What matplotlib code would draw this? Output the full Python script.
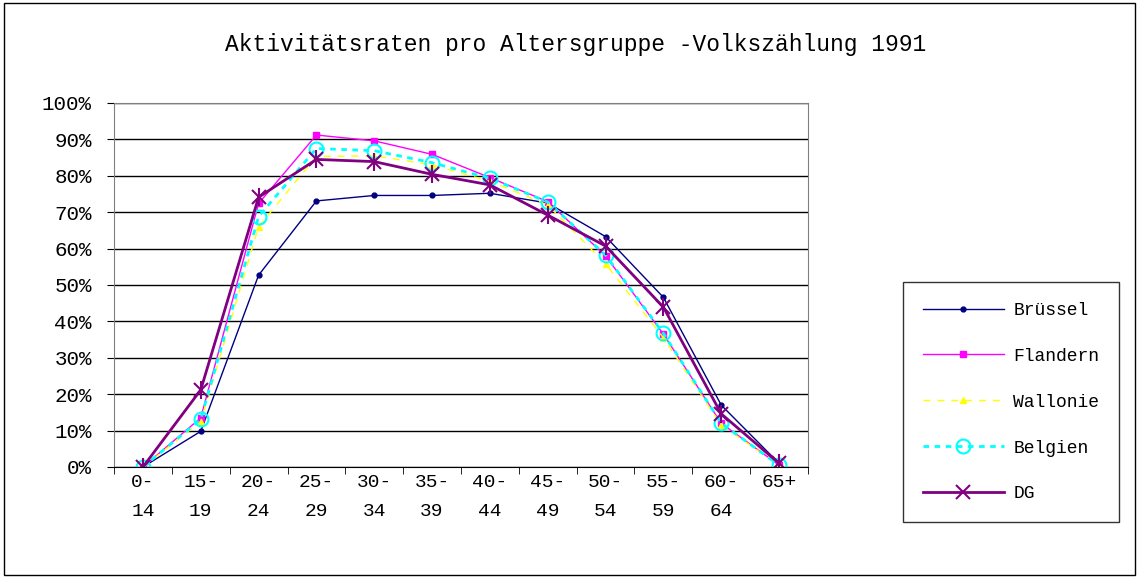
import matplotlib
matplotlib.use("Agg")
import matplotlib.pyplot as plt
from matplotlib.patches import Rectangle
import numpy as np

# age groups (two-line labels)
groups = ["0-\n14", "15-\n19", "20-\n24", "25-\n29", "30-\n34", "35-\n39",
          "40-\n44", "45-\n49", "50-\n54", "55-\n59", "60-\n64", "65+\n"]

# activity rates in percent
bruessel = [0, 9.8, 52.7, 73.1, 74.6, 74.6, 75.2, 72.5, 63.3, 46.6, 17.0, 1.0]
flandern = [0, 13.5, 72.4, 91.2, 89.6, 85.9, 79.5, 72.9, 58.0, 36.5, 12.0, 0.5]
wallonie = [0, 12.5, 66.0, 85.3, 85.5, 83.0, 78.5, 72.0, 55.8, 35.5, 11.5, 0.5]
belgien = [0, 13.1, 68.8, 87.5, 86.9, 83.6, 79.3, 72.8, 58.2, 36.7, 12.0, 0.5]
dg = [0, 21.2, 74.1, 84.5, 83.9, 80.4, 77.5, 69.2, 60.7, 43.9, 14.6, 1.0]

font = "Liberation Mono"

fig = plt.figure(figsize=(11.39, 5.78), dpi=100)
ax = fig.add_axes([114/1139, 1-467/578, 694/1139, 364/578])

x = np.arange(len(groups))
ax.plot(x, bruessel, color="#000080", lw=1, marker="o", ms=3.5, label="Brüssel")
ax.plot(x, flandern, color="#FF00FF", lw=1, marker="s", ms=4.5, label="Flandern")
ax.plot(x, wallonie, color="#FFFF00", lw=1, ls=(0, (5, 5)), marker="^", ms=5, label="Wallonie")
ax.plot(x, belgien, color="#00FFFF", lw=2, ls=(0, (2, 2)), marker="o", ms=10, mfc="none",
        mew=1.5, label="Belgien")
ax.plot(x, dg, color="#800080", lw=2, marker="x", ms=10, mew=1.5, label="DG")
ax.plot(x, dg, color="#800080", lw=0, marker="|", ms=13, mew=1.5)

ax.set_xlim(-0.5, len(groups) - 0.5)
ax.set_ylim(0, 100)
ax.set_yticks(np.arange(0, 101, 10))
ax.set_yticklabels([f"{v}%" for v in range(0, 101, 10)], fontfamily=font, fontsize=15)
ax.yaxis.grid(True, color="black", lw=1)
ax.set_axisbelow(True)
ax.tick_params(axis="y", direction="out", length=5, pad=11)

ax.set_xticks(x)
ax.set_xticklabels(groups, fontfamily=font, fontsize=14, linespacing=1.95)
ax.set_xticks(np.arange(-0.5, len(groups)), minor=True)
ax.tick_params(axis="x", which="major", length=0, pad=5)
ax.tick_params(axis="x", which="minor", direction="out", length=5)

for s in ["top", "right"]:
    ax.spines[s].set_color("#808080")
ax.spines["left"].set_color("#808080")
ax.spines["bottom"].set_color("black")

fig.text(0.505, 1-45/578, "Aktivitätsraten pro Altersgruppe -Volkszählung 1991",
         ha="center", va="center", fontfamily=font, fontsize=16.5)

leg = ax.legend(loc="upper left", bbox_to_anchor=(903/1139, 1-282/578),
                bbox_transform=fig.transFigure, frameon=True, fancybox=False,
                prop={"family": font, "size": 13}, handlelength=4.5, borderaxespad=0,
                labelspacing=1.6, borderpad=1.1, handletextpad=0.5)
leg.get_frame().set_edgecolor("black")
leg.get_frame().set_linewidth(1)

fig.patches.append(Rectangle((4/1139, 3/578), 1131/1139, 572/578, transform=fig.transFigure,
                             fill=False, edgecolor="black", lw=1))

fig.savefig("out.png", dpi=100)
